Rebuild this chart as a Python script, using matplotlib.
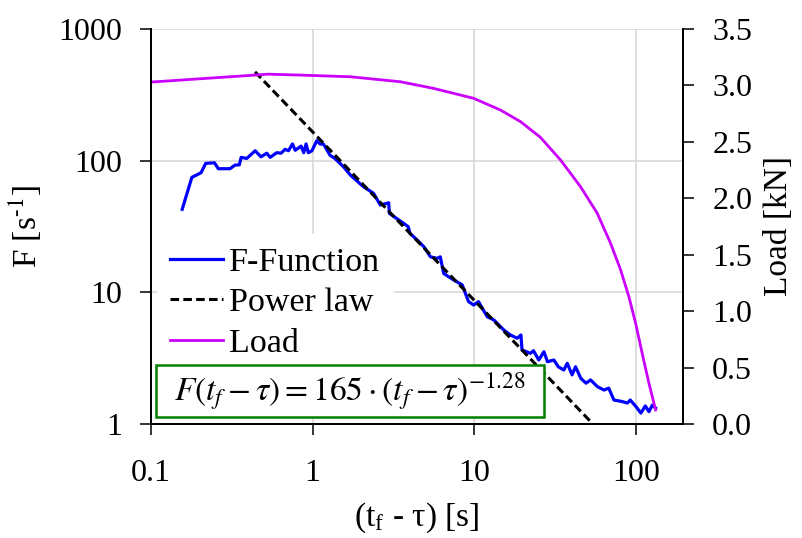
import matplotlib
matplotlib.use("Agg")
import matplotlib.pyplot as plt
from matplotlib.patches import Rectangle

plt.rcParams["font.family"] = ["Liberation Serif", "DejaVu Serif"]
plt.rcParams["mathtext.fontset"] = "stix"
plt.rcParams["font.size"] = 23

# F-function
F_X = [0.156, 0.179, 0.204, 0.218, 0.247, 0.261, 0.308, 0.331, 0.352, 0.361,
       0.391, 0.441, 0.479, 0.52, 0.546, 0.599, 0.637, 0.675, 0.708, 0.75,
       0.78, 0.848, 0.88, 0.91, 0.94, 0.99, 1.06, 1.11, 1.17, 1.28,
       1.37, 1.55, 1.71, 2.06, 2.38, 2.62, 2.95, 2.98, 3.65, 3.9,
       4.0, 4.42, 4.87, 5.35, 5.88, 6.15, 6.46, 7.45, 8.4, 9.2,
       9.9, 10.6, 12.0, 13.2, 15.2, 16.7, 18.4, 19.4, 19.7, 22.2,
       23.2, 25, 26.9, 28.3, 31, 33, 35.7, 37.5, 40.2, 42.2,
       45.5, 49, 52.3, 57.6, 63.3, 67.7, 72.9, 82, 88.3, 92,
       100, 107, 114, 120, 126, 132]
F_Y = [42.7, 74.7, 81, 95.4, 96.4, 86.9, 86.9, 92.6, 93, 106,
       104, 119, 107, 114, 106, 115, 114, 122, 119, 134,
       120, 129, 115, 134, 115, 119, 142, 134, 133, 110,
       104, 90, 77.8, 63.4, 56.5, 46, 47.9, 39.8, 33.4, 31.5,
       28, 25, 22.2, 18.6, 18.1, 18.6, 13.9, 12.4, 11.4, 8.5,
       8.0, 8.5, 6.53, 6.16, 5.17, 4.74, 4.48, 4.74, 3.65, 3.44,
       3.6, 3.06, 3.54, 2.97, 3.06, 2.72, 2.57, 2.89, 2.36, 2.72,
       2.22, 2.04, 2.16, 1.92, 1.81, 1.87, 1.52, 1.48, 1.44, 1.52,
       1.35, 1.21, 1.37, 1.24, 1.39, 1.32]

# power law fit, end points
POWER_X = [0.44, 60]
POWER_Y = [473, 0.874]

# load on right axis
LOAD_X = [0.1, 0.53, 0.84, 1.71, 3.48, 5.6, 9.9, 14.5, 19.3, 25.6,
          34.1, 45.3, 57.5, 69.5, 80.2, 90.2, 99.3, 109, 120, 132]
LOAD_Y = [3.03, 3.10, 3.092, 3.077, 3.033, 2.974, 2.886, 2.782, 2.679, 2.54,
          2.339, 2.103, 1.867, 1.601, 1.365, 1.128, 0.892, 0.626, 0.361, 0.124]

X_TICKS = [0.1, 1, 10, 100]
X_TICKLABELS = ["0.1", "1", "10", "100"]
Y_TICKS = [1, 10, 100, 1000]
Y_TICKLABELS = ["1", "10", "100", "1000"]
LOAD_TICKS = [0.0, 0.5, 1.0, 1.5, 2.0, 2.5, 3.0, 3.5]

fig = plt.figure(figsize=(8.03, 5.38), dpi=100)
fig.subplots_adjust(left=0.188, right=0.8506, top=0.946, bottom=0.212)
ax = fig.add_subplot(111)
ax2 = ax.twinx()

l1, = ax.plot(F_X, F_Y, color="#0000ff", lw=2.3, label="F-Function")
l2, = ax.plot(POWER_X, POWER_Y, color="black", lw=2.2, dashes=(2.8, 1.4), label="Power law")
l3, = ax2.plot(LOAD_X, LOAD_Y, color="#cc00ff", lw=2.0, label="Load")

ax.set_xscale("log")
ax.set_yscale("log")
ax.set_xlim(0.1, 195)
ax.set_ylim(1, 1000)
ax.set_xticks(X_TICKS)
ax.set_xticklabels(X_TICKLABELS)
ax.set_yticks(Y_TICKS)
ax.set_yticklabels(Y_TICKLABELS)
ax.minorticks_off()
ax.grid(True, color="#d9d9d9", lw=1.2)
ax.set_axisbelow(True)

ax2.set_ylim(0, 3.5)
ax2.set_yticks(LOAD_TICKS)
ax2.set_yticklabels([f"{v:.1f}" for v in LOAD_TICKS])

for a in (ax, ax2):
    a.spines["top"].set_visible(False)
    for s in a.spines.values():
        s.set_linewidth(1.3)
    a.tick_params(direction="out", length=8, width=1.1, pad=13)
ax.tick_params(axis="x", pad=17)

ax.set_xlabel(r"(t$_\mathregular{f}$ - τ) [s]", labelpad=9, fontsize=24)
ax.set_ylabel(r"F [s$^{\mathregular{\text{-1}}}$]", labelpad=10, fontsize=24)
ax2.set_ylabel("Load [kN]", labelpad=8, fontsize=24)

leg = ax2.legend(handles=[l1, l2, l3], loc="upper left", bbox_to_anchor=(0.011, 0.482),
                 frameon=True, facecolor="white", edgecolor="none", framealpha=1,
                 fancybox=False, handlelength=1.55, handletextpad=0.18,
                 labelspacing=0.28, borderpad=0.4, borderaxespad=0.0, fontsize=24.5)
leg.set_zorder(4)

ax2.add_patch(Rectangle((0.0094, 0.018), 0.73, 0.131, transform=ax2.transAxes,
                        facecolor="white", edgecolor="#008000", lw=1.8, zorder=5))
ax2.text(0.374, 0.083, r"$F\left(t_f-\tau\right)=165\cdot\left(t_f-\tau\right)^{-1.28}$",
         transform=ax2.transAxes, ha="center", va="center", fontsize=24, zorder=6)

fig.savefig("out.png", dpi=100)
